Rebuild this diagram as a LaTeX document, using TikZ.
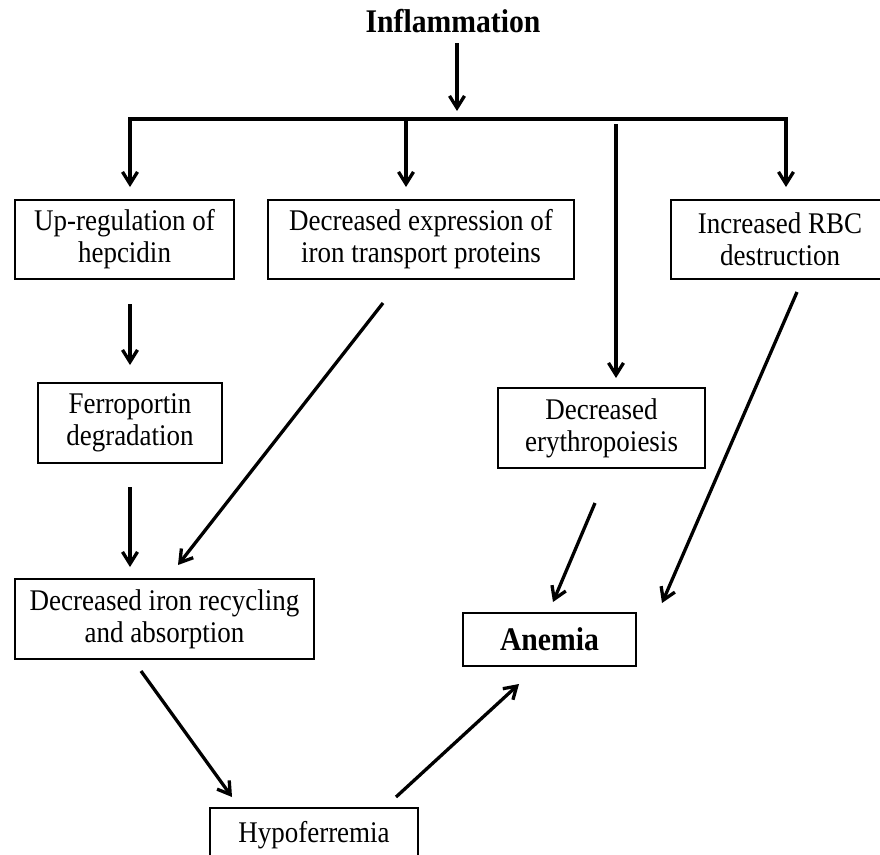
\documentclass[tikz,border=0pt]{standalone}
\usepackage{fontspec}
\setmainfont{Liberation Serif}[FakeStretch=0.9]
\usetikzlibrary{arrows.meta}
\begin{document}
\begin{tikzpicture}[x=1pt,y=-1pt,
  box/.style={draw,line width=1.8pt,inner sep=0pt,align=center,
    font=\fontsize{30}{32}\selectfont},
  title/.style={inner sep=0pt,font=\fontsize{33}{36}\selectfont\bfseries},
  arr/.style={line width=3.3pt,-{Straight Barb[length=12pt,width=15pt]}},
  bar/.style={line width=3.8pt}]
\clip (0,0) rectangle (880,854);
\useasboundingbox (0,0) rectangle (880,854);
% nodes
\node[title] (infl) at (453,21) {Inflammation};
\node[box,minimum width=219pt,minimum height=79pt] (hep) at (124.5,239.5) {Up-regulation of\\hepcidin};
\node[box,minimum width=306pt,minimum height=79pt] (trans) at (421,239.5) {Decreased expression of\\iron transport proteins};
\node[box,minimum width=218pt,minimum height=79pt] (rbc) at (780,239.5) {Increased RBC\\destruction};
\node[box,minimum width=184pt,minimum height=80pt] (ferro) at (130,423) {Ferroportin\\degradation};
\node[box,minimum width=207pt,minimum height=80pt] (ery) at (601.5,428) {Decreased\\erythropoiesis};
\node[box,minimum width=299pt,minimum height=80pt] (iron) at (164.5,619) {Decreased iron recycling\\and absorption};
\node[box,minimum width=173pt,minimum height=53pt,font=\fontsize{33}{36}\selectfont\bfseries] (anem) at (549.5,639.5) {Anemia};
\node[box,minimum width=208pt,minimum height=54pt] (hypo) at (314,835) {Hypoferremia};
% connector end points
\coordinate (i0) at (457,43);
\coordinate (i1) at (457,111);
\coordinate (bl) at (130,119);
\coordinate (bm) at (406,119);
\coordinate (br) at (786,119);
\coordinate (hepT) at (130,187);
\coordinate (transT) at (406,187);
\coordinate (rbcT) at (786,187);
\coordinate (eryS) at (616,124);
\coordinate (eryT) at (616,378);
\coordinate (hepB) at (130,304);
\coordinate (ferroT) at (130,365);
\coordinate (transB) at (383,303);
\coordinate (ironT2) at (178,565);
\coordinate (ferroB) at (130,487);
\coordinate (ironT1) at (130,567);
\coordinate (rbcB) at (797,292);
\coordinate (anemT2) at (662,603);
\coordinate (eryB) at (595,503);
\coordinate (anemT1) at (553,602);
\coordinate (ironB) at (141,671);
\coordinate (hypoT) at (232,797);
\coordinate (hypoR) at (396,797);
\coordinate (anemB) at (519,684);
% connectors
\draw[arr] (i0) -- (i1);
\draw[bar] ([xshift=-1.6pt]bl) -- ([xshift=1.6pt]br);
\draw[arr] (bl) -- (hepT);
\draw[arr] (bm) -- (transT);
\draw[arr] (br) -- (rbcT);
\draw[arr] (eryS) -- (eryT);
\draw[arr] (hepB) -- (ferroT);
\draw[arr] (transB) -- (ironT2);
\draw[arr] (ferroB) -- (ironT1);
\draw[arr] (rbcB) -- (anemT2);
\draw[arr] (eryB) -- (anemT1);
\draw[arr] (ironB) -- (hypoT);
\draw[arr] (hypoR) -- (anemB);
\end{tikzpicture}
\end{document}
